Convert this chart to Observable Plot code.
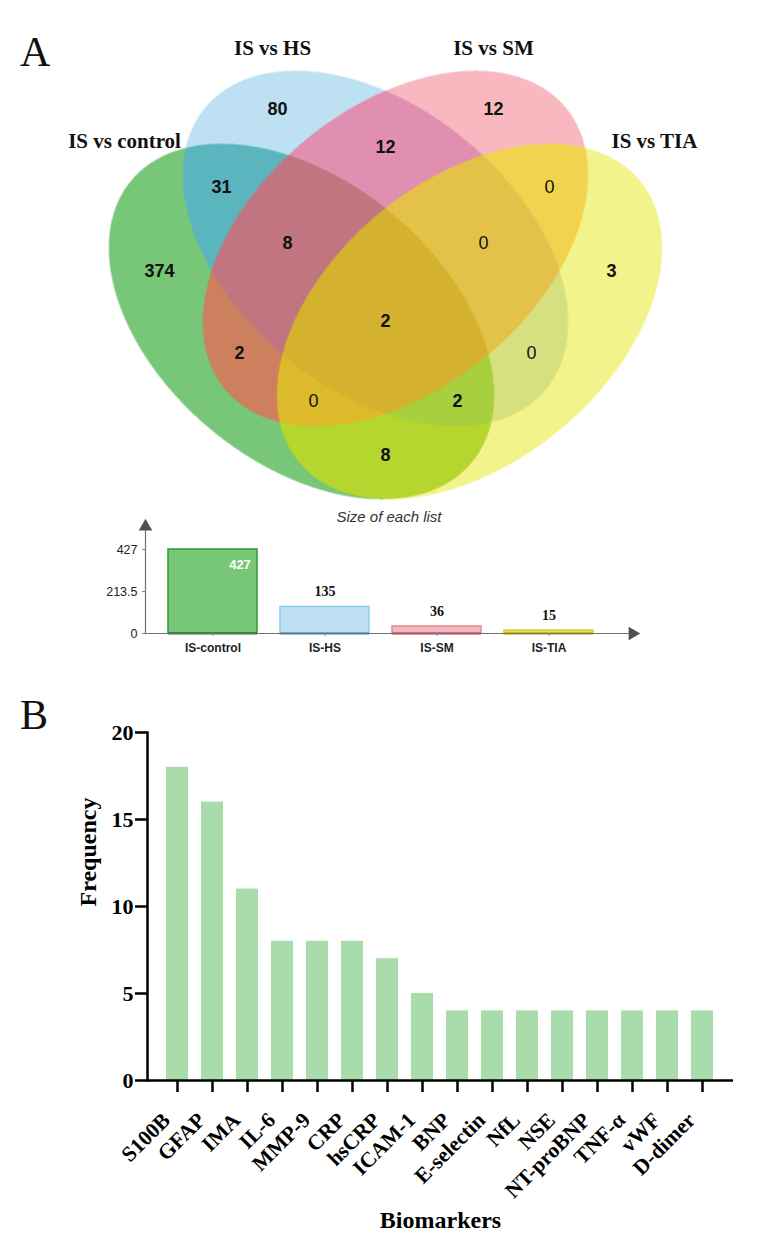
<!DOCTYPE html>
<html>
<head>
<meta charset="utf-8">
<script src="https://cdn.jsdelivr.net/npm/d3@7"></script>
<script src="https://cdn.jsdelivr.net/npm/@observablehq/plot@0.6"></script>
<style>
  body { margin: 0; background: #fff; }
  #page { position: relative; width: 763px; height: 1256px; overflow: hidden; background: #fff; }
  .chart { position: absolute; left: 0; z-index: 1; }
  .panel { position: absolute; z-index: 2; font-family: "Liberation Serif", serif; font-size: 42px; line-height: 42px; color: #111; }
</style>
</head>
<body>
<div id="page">
  <div class="chart" id="venn" style="top:0px"></div>
  <div class="chart" id="sizes" style="top:502px"></div>
  <div class="chart" id="freq" style="top:665px"></div>
  <div class="panel" style="left:20px;top:31px">A</div>
  <div class="panel" style="left:20px;top:694px">B</div>
</div>
<script>
// ---------------- DATA ----------------
const setNames = ["IS vs control", "IS vs HS", "IS vs SM", "IS vs TIA"];
// membership flags in setNames order
const regionMembers = ["1000", "0100", "0010", "0001", "1100", "1010", "1001", "0110", "0101", "0011", "1110", "1101", "1011", "0111", "1111"];
const regionCounts  = [374, 80, 12, 3, 31, 2, 8, 12, 0, 0, 8, 2, 0, 0, 2];

const listNames = ["IS-control", "IS-HS", "IS-SM", "IS-TIA"];
const listSizes = [427, 135, 36, 15];

const biomarkers = ["S100B", "GFAP", "IMA", "IL-6", "MMP-9", "CRP", "hsCRP", "ICAM-1", "BNP", "E-selectin", "NfL", "NSE", "NT-proBNP", "TNF-α", "vWF", "D-dimer"];
const frequency  = [18, 16, 11, 8, 8, 8, 7, 5, 4, 4, 4, 4, 4, 4, 4, 4];

// ---------------- STYLE / LAYOUT ----------------
const W = 763;
const VH = 502;
const regionColors = {
  "1000": "#78c677", "0100": "#bde0f3", "0010": "#f9b8c0", "0001": "#f3f38b",
  "1100": "#5ab5be", "1010": "#cd805e", "1001": "#b5d62e", "0110": "#e08fb0",
  "0101": "#d6e07e", "0011": "#f1d34f", "1110": "#c17580", "1101": "#a7cf3e",
  "1011": "#dcba2b", "0111": "#e4c249", "1111": "#d4b230", "0000": "#ffffff"
};
const ellA = 221, ellB = 141;
const ellipses = [
  {cx: 301, cy: 321, angle: 39.5},
  {cx: 375, cy: 248, angle: 39.5},
  {cx: 395, cy: 248, angle: 140.5},
  {cx: 469, cy: 321, angle: 140.5}
].map(e => ({...e, c: Math.cos(e.angle * Math.PI / 180), s: Math.sin(e.angle * Math.PI / 180)}));
const setLabelOffset = [[-97, -2], [-23, -22], [18, -22], [105, -2]];

function regionAt(x, y) {
  let key = "";
  for (const e of ellipses) {
    const dx = x - e.cx, dy = y - e.cy;
    const u = dx * e.c + dy * e.s, v = -dx * e.s + dy * e.c;
    key += (u * u / (ellA * ellA) + v * v / (ellB * ellB) <= 1) ? "1" : "0";
  }
  return key;
}

// label position for each region: centroid if comfortably inside, else point farthest from boundary
const step = 2, gw = Math.ceil(W / step), gh = Math.ceil(VH / step);
const codes = new Array(gw * gh);
for (let j = 0; j < gh; ++j) for (let i = 0; i < gw; ++i) codes[j * gw + i] = regionAt((i + 0.5) * step, (j + 0.5) * step);
const dist = new Float64Array(gw * gh).fill(1e9);
for (let j = 0; j < gh; ++j) for (let i = 0; i < gw; ++i) {
  const k = j * gw + i, c = codes[k];
  if (i === 0 || j === 0 || i === gw - 1 || j === gh - 1 ||
      codes[k - 1] !== c || codes[k + 1] !== c || codes[k - gw] !== c || codes[k + gw] !== c) dist[k] = 0;
}
const R2 = Math.SQRT2;
for (let j = 1; j < gh - 1; ++j) for (let i = 1; i < gw - 1; ++i) {
  const k = j * gw + i;
  dist[k] = Math.min(dist[k], dist[k - 1] + 1, dist[k - gw] + 1, dist[k - gw - 1] + R2, dist[k - gw + 1] + R2);
}
for (let j = gh - 2; j > 0; --j) for (let i = gw - 2; i > 0; --i) {
  const k = j * gw + i;
  dist[k] = Math.min(dist[k], dist[k + 1] + 1, dist[k + gw] + 1, dist[k + gw + 1] + R2, dist[k + gw - 1] + R2);
}
const stats = {};
for (let k = 0; k < codes.length; ++k) {
  const c = codes[k];
  const s = stats[c] || (stats[c] = {d: -1, k: 0, sx: 0, sy: 0, n: 0});
  if (dist[k] > s.d) { s.d = dist[k]; s.k = k; }
  s.sx += k % gw; s.sy += Math.floor(k / gw); s.n++;
}
const regionLabels = regionMembers.map((m, r) => {
  const s = stats[m];
  const ci = Math.round(s.sx / s.n), cj = Math.round(s.sy / s.n), ck = cj * gw + ci;
  const useCentroid = codes[ck] === m && dist[ck] >= 0.75 * s.d;
  const k = useCentroid ? ck : s.k;
  return {members: m, count: regionCounts[r], x: (k % gw + 0.5) * step, y: (Math.floor(k / gw) + 0.5) * step};
});
const setLabels = setNames.map((name, i) => {
  const e = ellipses[i];
  const hy = Math.sqrt(ellA * ellA * e.s * e.s + ellB * ellB * e.c * e.c);
  const mxy = (ellA * ellA - ellB * ellB) * e.s * e.c;
  return {name, x: e.cx - mxy / hy + setLabelOffset[i][0], y: e.cy - hy + setLabelOffset[i][1]};
});

// ---------------- VENN ----------------
const venn = Plot.plot({
  width: W, height: VH, margin: 0,
  x: {domain: [0, W], range: [0, W], axis: null},
  y: {domain: [0, VH], range: [0, VH], axis: null},
  color: {type: "identity"},
  style: {background: "transparent"},
  marks: [
    Plot.raster({x1: 0, y1: 0, x2: W, y2: VH, width: W * 2, height: VH * 2, imageRendering: "auto",
      fill: (x, y) => regionColors[regionAt(x, y)]}),
    Plot.text(regionLabels, {filter: d => d.count > 0, x: "x", y: "y", text: d => String(d.count),
      fontFamily: "Liberation Sans", fontSize: 18, fontWeight: "bold", fill: "#111"}),
    Plot.text(regionLabels, {filter: d => d.count === 0, x: "x", y: "y", text: d => String(d.count),
      fontFamily: "Liberation Sans", fontSize: 18, fontWeight: "normal", fill: "#111"}),
    Plot.text(setLabels, {x: "x", y: "y", text: "name",
      fontFamily: "Liberation Serif", fontSize: 21, fontWeight: "bold", fill: "#111"})
  ]
});
document.getElementById("venn").append(venn);

// ---------------- SIZE OF EACH LIST ----------------
const listFill   = ["#78c677", "#bde0f3", "#f7b7c0", "#ebe24c"];
const listStroke = ["#2e9b2e", "#93cdee", "#e48c9a", "#d9d023"];
const listBase   = ["#1f6f1f", "#3d7dbd", "#c2414f", "#b5ac00"];
const sizeData = listNames.map((name, i) => ({name, size: listSizes[i], i}));
const maxSize = d3.max(listSizes);
const sizes = Plot.plot({
  width: W, height: 163, marginLeft: 145, marginRight: 131, marginTop: 24, marginBottom: 32,
  style: {background: "transparent", fontFamily: "Liberation Sans"},
  color: {type: "identity"},
  x: {domain: listNames, range: [145, 616], paddingInner: 0.205, paddingOuter: 0.205},
  y: {domain: [0, maxSize], range: [131, 47]},
  marks: [
    Plot.barY(sizeData, {x: "name", y: "size", fill: d => listFill[d.i], stroke: d => listStroke[d.i], strokeWidth: 1.5}),
    Plot.tickY(sizeData, {x: "name", y: d => 0, stroke: d => listBase[d.i], strokeWidth: 2}),
    Plot.ruleY([0], {stroke: "#707070", strokeWidth: 1.2}),
    Plot.frame({anchor: "left", stroke: "#707070", strokeWidth: 1.2}),
    Plot.dot([0], {frameAnchor: "top-left", symbol: "triangle", r: 5, fill: "#505050", stroke: null}),
    Plot.dot([0], {frameAnchor: "bottom-right", symbol: "triangle", r: 5, rotate: 90, fill: "#505050", stroke: null}),
    Plot.axisY({ticks: [0, maxSize / 2, maxSize], tickFormat: d => String(d), tickSize: 3, tickPadding: 5,
      fontSize: 12.5, fill: "#222", stroke: "#888", label: null}),
    Plot.axisX({tickSize: 3, tickPadding: 7, fontSize: 12, fontWeight: "bold", fill: "#222", stroke: "#888", label: null}),
    Plot.text(sizeData, {filter: d => d.size === maxSize, x: "name", y: "size", text: d => String(d.size),
      dx: 27, dy: 15, fill: "white", fontSize: 13, fontWeight: "bold"}),
    Plot.text(sizeData, {filter: d => d.size !== maxSize, x: "name", y: "size", text: d => String(d.size),
      dy: -15, fill: "#111", fontSize: 14, fontWeight: "bold", fontFamily: "Liberation Serif"}),
    Plot.text(["Size of each list"], {frameAnchor: "top", dy: -15, text: d => d, fontStyle: "italic", fontSize: 15, fill: "#333"})
  ]
});
document.getElementById("sizes").append(sizes);

// ---------------- FREQUENCY BAR CHART ----------------
const freqData = biomarkers.map((name, i) => ({name, freq: frequency[i]}));
const freq = Plot.plot({
  width: W, height: 591, marginLeft: 147, marginRight: 30, marginTop: 67, marginBottom: 176,
  style: {background: "transparent", fontFamily: "Liberation Serif", color: "#000"},
  x: {domain: biomarkers, range: [152, 726.4], paddingInner: 0.376, paddingOuter: 0.188},
  y: {domain: [0, 20]},
  marks: [
    Plot.barY(freqData, {x: "name", y: "freq", fill: "#a8dcaa"}),
    Plot.ruleY([0], {stroke: "#000", strokeWidth: 2.5}),
    Plot.frame({anchor: "left", stroke: "#000", strokeWidth: 2.5}),
    Plot.axisY({ticks: [0, 5, 10, 15, 20], tickSize: 12, tickPadding: 2, strokeWidth: 2.5, stroke: "#000", fill: "#000",
      fontSize: 22, fontWeight: "bold", label: null}),
    Plot.axisX({tickSize: 12, tickFormat: () => "", strokeWidth: 2.5, stroke: "#000", label: null}),
    Plot.text(freqData, {x: "name", frameAnchor: "bottom", text: "name", rotate: -45, textAnchor: "end",
      dx: -6, dy: 41, fontSize: 21.5, fontWeight: "bold", fill: "#000"}),
    Plot.text(["Frequency"], {frameAnchor: "left", dx: -59, rotate: -90, text: d => d, fontSize: 24, fontWeight: "bold", fill: "#000"}),
    Plot.text(["Biomarkers"], {frameAnchor: "bottom", dy: 147, text: d => d, fontSize: 24, fontWeight: "bold", fill: "#000"})
  ]
});
document.getElementById("freq").append(freq);
</script>
</body>
</html>
